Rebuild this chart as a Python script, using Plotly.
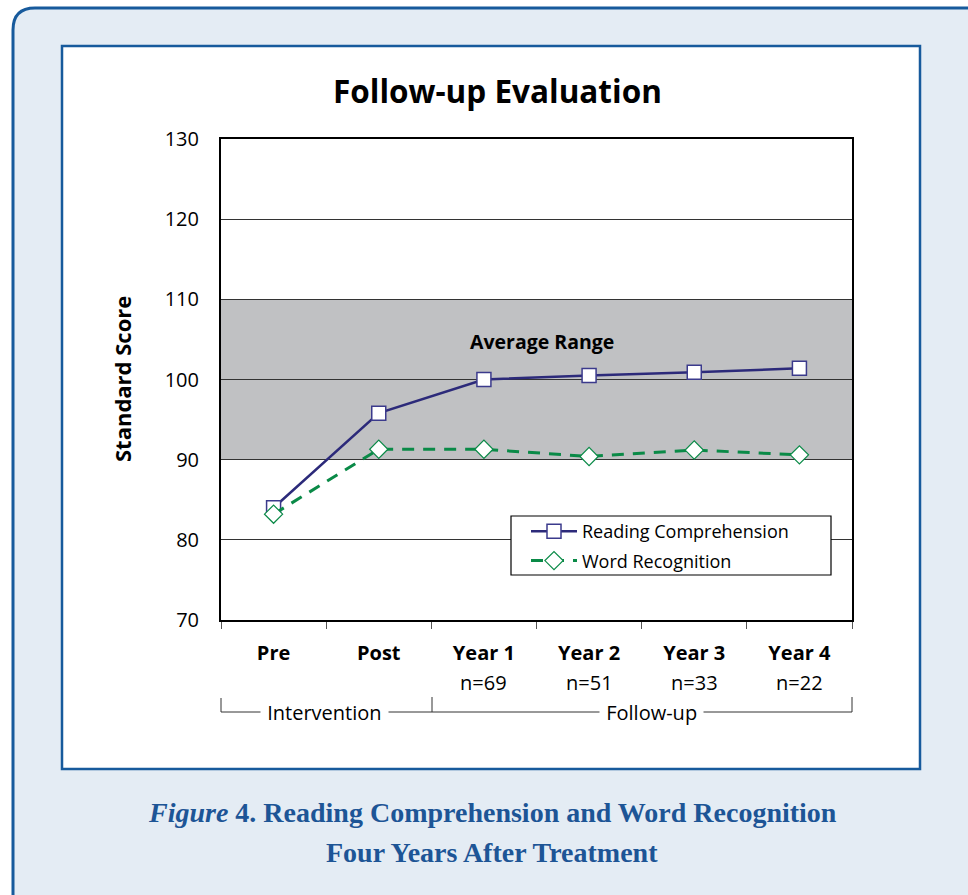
import plotly.graph_objects as go

# ---------------- data ----------------
categories = ["Pre", "Post", "Year 1", "Year 2", "Year 3", "Year 4"]
n_labels = ["", "", "n=69", "n=51", "n=33", "n=22"]
reading_comprehension = [84.0, 95.8, 100.0, 100.5, 100.9, 101.4]
word_recognition = [83.2, 91.3, 91.3, 90.4, 91.2, 90.6]
y_ticks = [70, 80, 90, 100, 110, 120, 130]
average_range = [90, 110]

# ---------------- layout geometry (pixels) ----------------
W, H = 968, 895
L, R, T, B = 221, 852, 139, 620
PW, PH = R - L, B - T


def px(x):
    return (x - L) / PW


def py(y):
    return (B - y) / PH


FONT = "Open Sans"
BLUE = "#175a9c"

fig = go.Figure()

fig.add_trace(go.Scatter(
    x=categories, y=reading_comprehension, name="Reading Comprehension",
    mode="lines+markers", legendgroup="rc",
    line=dict(color="#2c2a7a", width=2.5),
    marker=dict(symbol="square", size=14, color="white",
                line=dict(color="#3b3a8c", width=1.5)),
))
fig.add_trace(go.Scatter(
    x=categories, y=word_recognition, name="Word Recognition",
    mode="lines+markers", legendgroup="wr",
    line=dict(color="#0a8a47", width=3, dash="12px,9px"),
    marker=dict(symbol="diamond", size=14, color="white",
                line=dict(color="#0a8a47", width=1.2)),
))

shapes = []
# outer rounded panel
x0, x1 = px(13), px(1000)
y0, y1 = py(930), py(8)
rx, ry = 22 / PW, 22 / PH
path = (f"M {x0},{y0} L {x0},{y1 - ry} Q {x0},{y1} {x0 + rx},{y1} "
        f"L {x1},{y1} L {x1},{y0} Z")
shapes.append(dict(type="path", xref="paper", yref="paper", path=path,
                   fillcolor="#e4ecf4", line=dict(color=BLUE, width=3),
                   layer="below"))
# inner white box
shapes.append(dict(type="rect", xref="paper", yref="paper",
                   x0=px(62), x1=px(920), y0=py(769), y1=py(46),
                   fillcolor="white", line=dict(color=BLUE, width=2.5),
                   layer="below"))
# average range band
shapes.append(dict(type="rect", xref="x domain", yref="y",
                   x0=0, x1=1, y0=average_range[0], y1=average_range[1],
                   fillcolor="#c0c1c3", line=dict(width=0), layer="below"))
# legend box
shapes.append(dict(type="rect", xref="paper", yref="paper",
                   x0=px(511), x1=px(831), y0=py(575), y1=py(516),
                   fillcolor="white", line=dict(color="black", width=1.2),
                   layer="above"))
# brackets
BR_Y = 712
lc = dict(color="#333333", width=1)
shapes += [
    dict(type="line", xref="paper", yref="paper", x0=px(221), x1=px(852),
         y0=py(BR_Y), y1=py(BR_Y), line=lc),
    dict(type="line", xref="paper", yref="paper", x0=px(221), x1=px(221),
         y0=py(698), y1=py(BR_Y), line=lc),
    dict(type="line", xref="paper", yref="paper", x0=px(432), x1=px(432),
         y0=py(697), y1=py(BR_Y), line=lc),
    dict(type="line", xref="paper", yref="paper", x0=px(852), x1=px(852),
         y0=py(697), y1=py(BR_Y), line=lc),
]


def ann(text, x, y, size, color="black", family=FONT, **kw):
    d = dict(text=text, xref="paper", yref="paper", x=px(x), y=py(y),
             xanchor="center", yanchor="middle", showarrow=False,
             font=dict(family=family, size=size, color=color))
    d.update(kw)
    return d


annotations = [
    ann("<b>Follow-up Evaluation</b>", 497, 90, 31.5),
    ann("<b>Standard Score</b>", 122, 379, 22, textangle=-90),
    ann("<b>Average Range</b>", 542, 341, 19.5),
    ann(" Intervention ", 324, BR_Y, 20, bgcolor="white"),
    ann(" Follow-up ", 651, BR_Y, 20, bgcolor="white"),
    ann("<b><i>Figure</i> 4. Reading Comprehension and Word Recognition</b>",
        492, 812, 28, color="#1d5596", family="Liberation Serif"),
    ann("<b>Four Years After Treatment</b>",
        492, 852, 28, color="#1d5596", family="Liberation Serif"),
]
for c, n in zip(categories, n_labels):
    if n:
        annotations.append(dict(text=n, xref="x", yref="paper", x=c,
                                y=py(682), xanchor="center", yanchor="middle",
                                showarrow=False,
                                font=dict(family=FONT, size=20, color="black")))

fig.update_layout(
    width=W, height=H,
    margin=dict(l=L, r=W - R, t=T, b=H - B),
    paper_bgcolor="white", plot_bgcolor="white",
    font=dict(family=FONT, size=18, color="black"),
    showlegend=True,
    legend=dict(x=px(526), y=py(513), xanchor="left", yanchor="top",
                bgcolor="rgba(0,0,0,0)", borderwidth=0,
                font=dict(family=FONT, size=18, color="black"),
                itemwidth=46, tracegroupgap=3),
    shapes=shapes, annotations=annotations,
)
fig.update_xaxes(
    type="category", categoryorder="array", categoryarray=categories,
    tickvals=categories, ticktext=[f"<b>{c}</b>" for c in categories],
    tickson="boundaries", ticks="outside", ticklen=7, tickcolor="#555",
    showline=True, linecolor="black", linewidth=2, mirror=True,
    showgrid=False, range=[-0.5, 5.5], tickfont=dict(size=20),
    ticklabelstandoff=14,
)
fig.update_yaxes(
    range=[70, 130], tickvals=y_ticks, ticks="", ticklabelstandoff=16,
    showline=True, linecolor="black", linewidth=2, mirror=True,
    showgrid=True, gridcolor="#333333", gridwidth=1, zeroline=False,
    tickfont=dict(size=20),
)

fig.write_html(
    "out.html",
    config={"displayModeBar": False},
    post_script="document.body.style.margin='0';"
                "document.body.style.overflow='hidden';",
)
